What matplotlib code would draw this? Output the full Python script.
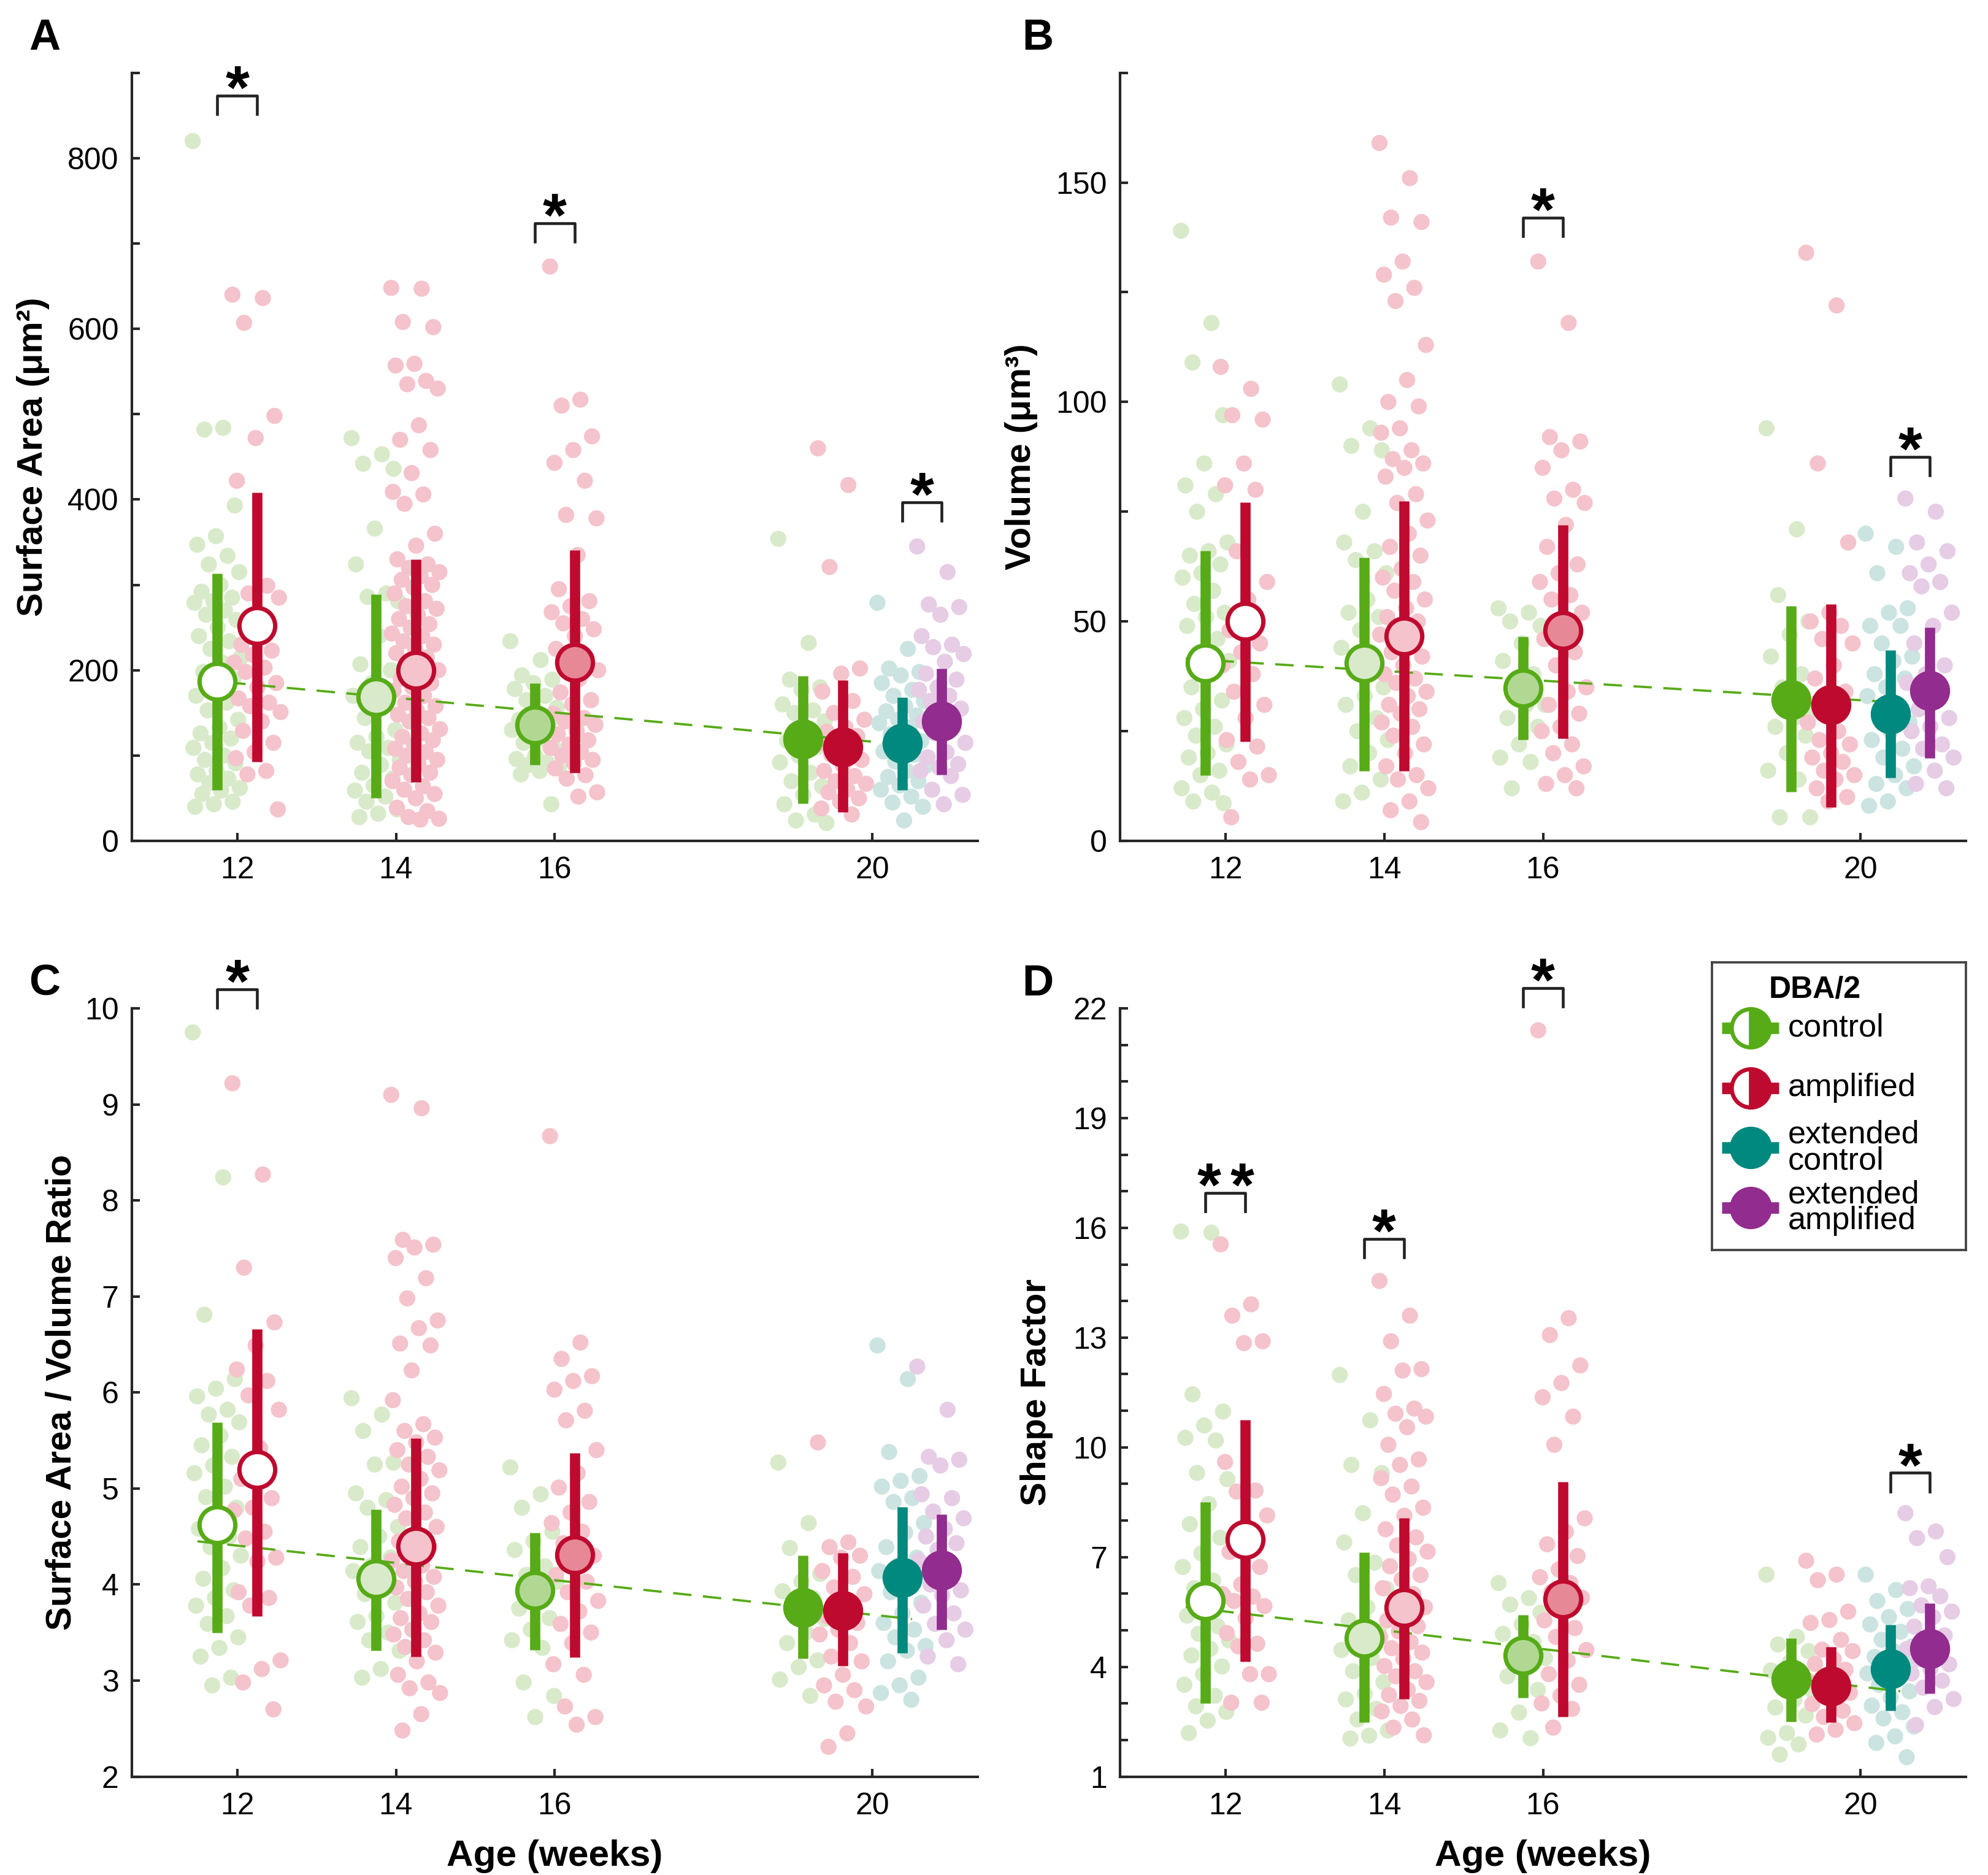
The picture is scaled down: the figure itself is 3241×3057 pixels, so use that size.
"""
Four-panel figure: surface area, volume, SA/V ratio and shape factor
versus age (weeks) for DBA/2 control and amplified groups.
"""

#%% Imports:

import numpy as np
import matplotlib.pyplot as plt
from matplotlib.ticker import MultipleLocator

plt.rcParams['font.family'] = ['Liberation Sans', 'DejaVu Sans']

#%% Groups (order: 12c, 12a, 14c, 14a, 16c, 16a, 20c, 20a, 20 ext c, 20 ext a):

ages = [12, 12, 14, 14, 16, 16, 20, 20, 20, 20]
group_shift = [-0.25, 0.25, -0.25, 0.25, -0.25, 0.25,
               -0.875, -0.375, 0.375, 0.875]

green = '#57ab17'
red = '#be0a2e'
teal = '#00897e'
purple = '#922c8e'

edge_cols = [green, red, green, red, green, red, green, red, teal, purple]
face_cols = ['white', 'white', '#d8eaca', '#f4c3cb', '#b1d893', '#e68896',
             green, red, teal, purple]
dot_cols = ['#d8eaca', '#f4c3cb', '#d8eaca', '#f4c3cb', '#d8eaca', '#f4c3cb',
            '#d8eaca', '#f4c3cb', '#cbe4e1', '#e6cce5']

#%% Panel A: surface area [um2]:

sa_mean = [187, 252, 169, 200, 136, 209, 119, 110, 114, 140]
sa_low = [60, 93, 50, 69, 89, 80, 44, 34, 60, 78]
sa_high = [313, 408, 289, 330, 185, 341, 193, 188, 168, 202]
sa_trend = [189, 112]
sa_points = [
    [820, 484, 482, 393, 357, 347, 334, 324, 315, 300, 292, 285, 281, 279,
     270, 265, 259, 250, 240, 234, 225, 215, 209, 198, 190, 176, 170, 162,
     153, 142, 133, 126, 120, 115, 109, 100, 95, 91, 82, 78, 73, 68, 62, 59,
     55, 46, 43, 40],
    [640, 636, 607, 498, 472, 422, 299, 290, 285, 260, 230, 223, 218, 209,
     203, 198, 185, 180, 167, 162, 158, 151, 140, 129, 115, 104, 97, 82, 78,
     37],
    [472, 453, 442, 436, 366, 324, 290, 286, 281, 240, 207, 200, 185, 170,
     160, 144, 130, 122, 115, 109, 105, 95, 89, 80, 73, 65, 59, 52, 46, 37,
     32, 28],
    [648, 647, 608, 602, 559, 557, 539, 535, 530, 487, 470, 458, 431, 409,
     406, 395, 360, 346, 330, 324, 320, 315, 310, 306, 300, 297, 290, 281,
     275, 272, 265, 260, 254, 250, 243, 240, 234, 230, 225, 220, 215, 207,
     200, 194, 190, 185, 180, 176, 170, 162, 158, 153, 148, 144, 140, 131,
     126, 122, 118, 113, 108, 104, 100, 95, 90, 86, 80, 77, 70, 64, 60, 55,
     50, 39, 35, 28, 26, 25],
    [234, 212, 194, 189, 185, 178, 170, 165, 156, 150, 142, 140, 135, 130,
     120, 115, 109, 100, 96, 92, 89, 85, 82, 78, 43],
    [673, 517, 510, 474, 458, 443, 422, 382, 378, 335, 295, 281, 275, 268,
     260, 255, 248, 240, 225, 215, 207, 200, 190, 174, 165, 160, 149, 144,
     140, 136, 129, 125, 118, 113, 109, 104, 100, 95, 91, 85, 77, 73, 57, 52],
    [354, 232, 189, 180, 177, 160, 153, 150, 140, 130, 117, 110, 100, 92,
     80, 70, 64, 54, 43, 31, 24, 21],
    [460, 417, 321, 202, 196, 175, 164, 150, 142, 133, 128, 123, 118, 114,
     108, 101, 95, 89, 82, 76, 70, 67, 60, 57, 50, 46, 38, 31],
    [279, 225, 202, 198, 194, 185, 177, 170, 164, 158, 152, 147, 142, 138,
     133, 125, 117, 110, 105, 101, 93, 88, 82, 75, 70, 65, 60, 52, 45, 40,
     24],
    [345, 315, 277, 274, 265, 240, 230, 227, 219, 210, 196, 189, 180, 177,
     170, 164, 155, 148, 140, 133, 126, 115, 104, 98, 90, 86, 82, 76, 60,
     54, 43],
]
sa_signif = [(0, 1, 873, '*'), (4, 5, 724, '*'), (8, 9, 397, '*')]

#%% Panel B: volume [um3]:

vol_mean = [40.5, 50, 40.5, 46.7, 34.8, 48, 32.1, 31, 29, 34.2]
vol_low = [15.0, 22.7, 16.0, 16.0, 23.0, 23.3, 11.2, 7.7, 14.4, 18.9]
vol_high = [66.1, 77.1, 64.5, 77.4, 46.5, 71.9, 53.5, 54.0, 43.4, 48.6]
vol_trend = [41.5, 31.5]
vol_points = [
    [139, 118, 109, 97, 86, 81, 79, 75, 68, 66, 65, 63, 61, 60, 57, 54, 52,
     51, 49, 46, 43, 41, 38, 35, 32, 30, 28, 26, 24, 22, 20, 19, 16, 15, 12,
     11, 9, 8.6],
    [108, 103, 97, 96, 86, 81, 80, 66, 59, 55, 48, 45, 43, 40, 38, 34, 31,
     28, 23, 21.5, 18, 15, 14, 5.4],
    [104, 94, 90, 89, 75, 68, 66, 64, 61, 55, 52, 51, 48, 44, 41, 39, 35,
     33, 31, 28, 25, 23, 20, 17, 14, 11, 9],
    [159, 151, 142, 141, 132, 129, 126, 123, 113, 105, 100, 99, 94, 93, 89,
     87, 86, 85, 83, 79, 77, 73, 70, 67, 65, 62, 60, 59, 57, 55, 53, 51, 50,
     49, 47, 45, 43, 42, 40, 38, 37, 36, 34, 33, 31, 30, 29, 27, 26, 24, 22,
     20, 17, 15, 14, 12, 9, 7, 4.3],
    [53, 52, 50, 49, 45, 41, 38, 35, 31, 31, 28, 26, 22, 19, 18, 12],
    [132, 118, 92, 91, 89, 85, 80, 78, 77, 72, 67, 63, 61, 59, 56, 55, 52,
     50, 46, 43, 40, 35, 34, 31, 29, 26, 25, 22, 20, 17, 15, 13, 12],
    [94, 71, 56, 50, 47, 42, 38, 35, 30, 28, 26, 24, 20, 16, 14, 5.4, 5.4],
    [134, 122, 86, 68, 52, 50, 49, 46, 45, 40, 37, 34, 30, 27, 25, 23, 22,
     20, 19, 18, 16, 15, 14, 12, 10, 9],
    [70, 67, 61, 53, 52, 49, 49, 45, 42, 41, 38, 37, 35, 33, 31, 29, 27, 25,
     23, 21, 19, 17, 15, 13, 12, 9, 8],
    [78, 75, 68, 66, 63, 61, 59, 58, 52, 49, 45, 40, 38, 36, 33, 30, 28, 26,
     25, 22, 21, 19, 16, 13, 12],
]
vol_signif = [(4, 5, 142, '*'), (8, 9, 87.5, '*')]

#%% Panel C: surface area / volume ratio:

ratio_mean = [4.62, 5.2, 4.06, 4.40, 3.94, 4.31, 3.76, 3.73, 4.07, 4.15]
ratio_low = [3.50, 3.67, 3.31, 3.25, 3.32, 3.24, 3.23, 3.15, 3.29, 3.53]
ratio_high = [5.69, 6.66, 4.78, 5.52, 4.54, 5.37, 4.30, 4.33, 4.81, 4.73]
ratio_trend = [4.45, 3.64]
ratio_points = [
    [9.75, 8.24, 6.81, 6.14, 6.04, 5.96, 5.82, 5.77, 5.69, 5.55, 5.45, 5.33,
     5.24, 5.16, 5.02, 4.91, 4.80, 4.69, 4.58, 4.5, 4.39, 4.30, 4.17, 4.06,
     3.94, 3.86, 3.78, 3.67, 3.59, 3.45, 3.34, 3.25, 3.03, 2.95],
    [9.22, 8.27, 7.30, 6.73, 6.49, 6.24, 6.12, 5.97, 5.82, 5.42, 5.1, 4.90,
     4.80, 4.77, 4.55, 4.48, 4.28, 4.24, 3.92, 3.86, 3.78, 3.21, 3.12, 2.98,
     2.70],
    [5.94, 5.77, 5.60, 5.27, 5.25, 4.95, 4.88, 4.80, 4.6, 4.5, 4.39, 4.28,
     4.2, 4.14, 3.97, 3.9, 3.81, 3.67, 3.61, 3.50, 3.42, 3.31, 3.12, 3.03],
    [9.10, 8.96, 7.59, 7.54, 7.51, 7.40, 7.19, 6.98, 6.75, 6.67, 6.51, 6.49,
     6.23, 5.92, 5.67, 5.60, 5.53, 5.48, 5.4, 5.33, 5.25, 5.19, 5.1, 5.02,
     4.95, 4.90, 4.83, 4.75, 4.69, 4.6, 4.52, 4.45, 4.39, 4.3, 4.25, 4.2,
     4.14, 4.08, 4.03, 3.97, 3.92, 3.85, 3.78, 3.70, 3.65, 3.61, 3.53, 3.48,
     3.42, 3.35, 3.29, 3.20, 3.06, 2.98, 2.92, 2.87, 2.65, 2.48],
    [5.22, 4.94, 4.80, 4.55, 4.45, 4.36, 4.19, 4.1, 4.03, 3.89, 3.75, 3.65,
     3.53, 3.42, 3.34, 2.98, 2.84, 2.62],
    [8.67, 6.52, 6.35, 6.17, 6.12, 6.03, 5.81, 5.71, 5.4, 5.16, 5.01, 4.86,
     4.75, 4.64, 4.55, 4.43, 4.3, 4.17, 4.1, 4.03, 3.92, 3.83, 3.72, 3.59,
     3.50, 3.39, 3.17, 3.06, 2.73, 2.62, 2.54],
    [5.27, 4.64, 4.38, 4.11, 4.03, 3.93, 3.86, 3.75, 3.64, 3.50, 3.39, 3.21,
     3.14, 3.01, 2.84],
    [5.48, 4.44, 4.39, 4.30, 4.28, 4.14, 4.08, 3.97, 3.9, 3.78, 3.67, 3.6,
     3.53, 3.48, 3.39, 3.25, 3.20, 3.06, 2.95, 2.90, 2.78, 2.73, 2.45, 2.31],
    [6.49, 6.14, 5.38, 5.13, 5.08, 5.02, 4.90, 4.86, 4.64, 4.54, 4.39, 4.28,
     4.2, 4.14, 4.0, 3.92, 3.81, 3.70, 3.6, 3.53, 3.45, 3.36, 3.31, 3.20,
     3.03, 2.95, 2.87, 2.80],
    [6.27, 5.82, 5.33, 5.30, 5.24, 4.94, 4.90, 4.76, 4.69, 4.58, 4.50, 4.43,
     4.36, 4.25, 4.14, 4.00, 3.94, 3.89, 3.78, 3.70, 3.59, 3.53, 3.42, 3.25,
     3.17],
]
ratio_signif = [(0, 1, 10.2, '*')]

#%% Panel D: shape factor:

shape_mean = [5.8, 7.48, 4.78, 5.62, 4.32, 5.85, 3.65, 3.48, 3.95, 4.5]
shape_low = [3.0, 4.15, 2.48, 3.12, 3.15, 2.63, 2.5, 2.48, 2.8, 3.27]
shape_high = [8.5, 10.75, 7.13, 8.07, 5.42, 9.05, 4.78, 4.55, 5.15, 5.74]
shape_trend = [5.64, 3.33]
shape_points = [
    [15.9, 15.87, 11.45, 10.98, 10.6, 10.26, 10.19, 9.3, 9.13, 8.45, 7.9,
     7.53, 7.1, 6.73, 6.36, 6.15, 5.92, 5.65, 5.4, 5.11, 4.9, 4.72, 4.49,
     4.31, 4.01, 3.8, 3.51, 3.21, 2.92, 2.77, 2.53, 2.19],
    [15.55, 13.91, 13.6, 12.9, 12.85, 9.6, 8.82, 8.79, 8.14, 7.75, 7.14,
     6.73, 6.25, 5.99, 5.92, 5.8, 5.66, 5.33, 4.92, 4.63, 4.56, 3.8, 3.8,
     3.02, 3.02],
    [11.98, 10.74, 9.52, 9.3, 8.2, 7.4, 6.85, 6.51, 6.14, 5.63, 5.27, 4.96,
     4.68, 4.46, 4.24, 3.88, 3.58, 3.26, 3.11, 2.85, 2.56, 2.26, 2.12, 2.04],
    [14.55, 13.6, 12.9, 12.14, 12.1, 11.46, 11.06, 10.92, 10.84, 10.55,
     10.07, 9.67, 9.52, 9.16, 8.93, 8.71, 8.35, 8.13, 7.76, 7.54, 7.32, 7.15,
     6.95, 6.75, 6.51, 6.39, 6.15, 5.99, 5.8, 5.63, 5.45, 5.27, 5.11, 4.97,
     4.81, 4.68, 4.51, 4.39, 4.22, 4.02, 3.88, 3.74, 3.58, 3.37, 3.23, 3.07,
     2.93, 2.78, 2.56, 2.34, 2.13],
    [6.29, 5.88, 5.7, 5.48, 5.16, 4.9, 4.68, 4.46, 4.24, 3.97, 3.74, 3.37,
     2.75, 2.26, 2.05],
    [21.4, 13.53, 13.07, 12.24, 11.76, 11.37, 10.84, 10.07, 8.06, 7.69,
     7.35, 7.03, 6.66, 6.45, 6.29, 6.05, 5.89, 5.56, 5.27, 5.06, 4.82, 4.46,
     4.17, 3.8, 3.51, 3.21, 3.0, 2.85, 2.34],
    [6.52, 4.82, 4.61, 4.43, 4.12, 3.9, 3.68, 3.47, 3.33, 3.1, 2.89, 2.67,
     2.19, 2.06, 1.88, 1.6],
    [6.9, 6.52, 6.37, 5.51, 5.28, 5.2, 4.74, 4.47, 4.43, 4.21, 4.08, 3.92,
     3.77, 3.62, 3.51, 3.4, 3.29, 3.12, 2.98, 2.8, 2.63, 2.46, 2.28, 2.15],
    [6.52, 6.1, 5.8, 5.58, 5.36, 5.16, 4.96, 4.74, 4.56, 4.43, 4.27, 4.12,
     3.97, 3.82, 3.67, 3.51, 3.33, 3.16, 2.94, 2.76, 2.59, 2.37, 2.1, 1.92,
     1.53],
    [8.2, 7.7, 7.52, 7.0, 6.2, 6.15, 5.93, 5.68, 5.51, 5.36, 5.1, 4.86, 4.65,
     4.49, 4.37, 4.21, 4.07, 3.95, 3.82, 3.62, 3.43, 3.12, 2.9, 2.41],
]
shape_signif = [(0, 1, 16.95, '**'), (2, 3, 15.7, '*'), (4, 5, 22.55, '*'),
                (8, 9, 9.3, '*')]

trend_x = [11.5, 20.5]  # [weeks] extent of the dashed trend line

#%% Helpers:


def spread(n, half=0.31):
    # Fixed, repeatable horizontal scatter for the single cells
    return ((np.arange(n) * 0.6180339887) % 1.0 - 0.5) * 2 * half


def draw_panel(ax, points, mean, low, high, trend, signif, ylim, major,
               minor, ylabel, label_x):
    xpos = [a + s for a, s in zip(ages, group_shift)]
    for i in range(len(ages)):
        vals = np.array(points[i])
        ax.scatter(xpos[i] + spread(len(vals)), vals, s=40, color=dot_cols[i],
                   edgecolors='none', zorder=1)
    ax.plot(trend_x, trend, color=green, lw=0.9, dashes=(8, 5), zorder=2)
    for i in range(len(ages)):
        ax.plot([xpos[i], xpos[i]], [low[i], high[i]], color=edge_cols[i],
                lw=4.0, solid_capstyle='butt', zorder=3)
        ax.plot(xpos[i], mean[i], 'o', ms=14, mfc=face_cols[i],
                mec=edge_cols[i], mew=1.7, zorder=4)

    leg = 0.024*(ylim[1] - ylim[0])
    for i, j, y_top, txt in signif:
        xl, xr = xpos[i], xpos[j]
        ax.plot([xl, xl, xr, xr], [y_top - leg, y_top, y_top, y_top - leg],
                color='#222222', lw=1.1, clip_on=False, zorder=5)
        # '**' is set as two single stars with a small gap
        shifts = [-6.5, 6.5] if txt == '**' else [0]
        for dx in shifts:
            ax.annotate('*', xy=((xl + xr)/2, y_top), xytext=(dx, -5),
                        textcoords='offset points', ha='center',
                        va='baseline', fontsize=24, fontweight='bold',
                        annotation_clip=False)

    ax.set_xlim(10.67, 21.33)
    ax.set_ylim(*ylim)
    ax.set_xticks([12, 14, 16, 20])
    ax.yaxis.set_major_locator(MultipleLocator(major))
    if minor:
        ax.yaxis.set_minor_locator(MultipleLocator(minor))
    if ylim[0] == 1:
        ax.set_yticks(np.arange(1, 23, 3))
    ax.spines['top'].set_visible(False)
    ax.spines['right'].set_visible(False)
    for side in ['left', 'bottom']:
        ax.spines[side].set_linewidth(1.0)
        ax.spines[side].set_color('#262626')
    ax.tick_params(which='both', direction='in', width=1.0, color='#262626',
                   labelsize=12, length=3.2)
    ax.tick_params(axis='x', pad=6)
    ax.tick_params(axis='y', pad=5)
    ax.set_ylabel(ylabel, fontsize=14, fontweight='bold')
    ax.yaxis.set_label_coords(label_x, 0.5)


#%% Figure:

fig = plt.figure(figsize=(3241/300, 3057/300), dpi=300)

ax_a = fig.add_axes([0.0662, 0.5515, 0.4257, 0.4097])
ax_b = fig.add_axes([0.5633, 0.5515, 0.4257, 0.4097])
ax_c = fig.add_axes([0.0662, 0.0525, 0.4257, 0.4097])
ax_d = fig.add_axes([0.5633, 0.0525, 0.4257, 0.4097])

draw_panel(ax_a, sa_points, sa_mean, sa_low, sa_high, sa_trend, sa_signif,
           (0, 900), 200, 100, 'Surface Area (μm²)', -0.097)
draw_panel(ax_b, vol_points, vol_mean, vol_low, vol_high, vol_trend,
           vol_signif, (0, 175), 50, 25, 'Volume (μm³)', -0.097)
draw_panel(ax_c, ratio_points, ratio_mean, ratio_low, ratio_high,
           ratio_trend, ratio_signif, (2, 10), 1, None,
           'Surface Area / Volume Ratio', -0.063)
draw_panel(ax_d, shape_points, shape_mean, shape_low, shape_high,
           shape_trend, shape_signif, (1, 22), 3, 1, 'Shape Factor', -0.079)

for ax in [ax_c, ax_d]:
    ax.set_xlabel('Age (weeks)', fontsize=14.5, fontweight='bold')
    ax.xaxis.set_label_coords(0.5, -0.082)

for letter, x, y in [('A', 0.0225, 0.9795), ('B', 0.522, 0.9795),
                     ('C', 0.0225, 0.475), ('D', 0.522, 0.475)]:
    fig.text(x, y, letter, fontsize=17, fontweight='bold',
             ha='center', va='center')

#%% Legend (drawn by hand to get the half-filled markers):

leg_labels = ['control', 'amplified', 'extended\ncontrol',
              'extended\namplified']
leg_cols = [green, red, teal, purple]
leg_half = [True, True, False, False]
leg_rows = [0.773, 0.564, 0.356, 0.147]

lax = fig.add_axes([0.861, 0.3333, 0.128, 0.1534], zorder=10)
lax.set_xlim(0, 1)
lax.set_ylim(0, 1)
lax.set_xticks([])
lax.set_yticks([])
for sp in lax.spines.values():
    sp.set_linewidth(0.9)
    sp.set_color('#444444')
lax.text(0.405, 0.905, 'DBA/2', ha='center', va='center', fontsize=12,
         fontweight='bold')
for lab, col, half, y in zip(leg_labels, leg_cols, leg_half, leg_rows):
    lax.plot([0.04, 0.265], [y, y], color=col, lw=4.5,
             solid_capstyle='butt')
    if half:
        lax.plot(0.152, y, 'o', ms=15, mfc=col, mfcalt='white',
                 fillstyle='right', mec=col, mew=1.6)
    else:
        lax.plot(0.152, y, 'o', ms=15, mfc=col, mec=col, mew=1.6)
    lax.text(0.30, y, lab, ha='left', va='center', fontsize=12.5,
             linespacing=0.85)

fig.savefig('out.png', dpi=300)
